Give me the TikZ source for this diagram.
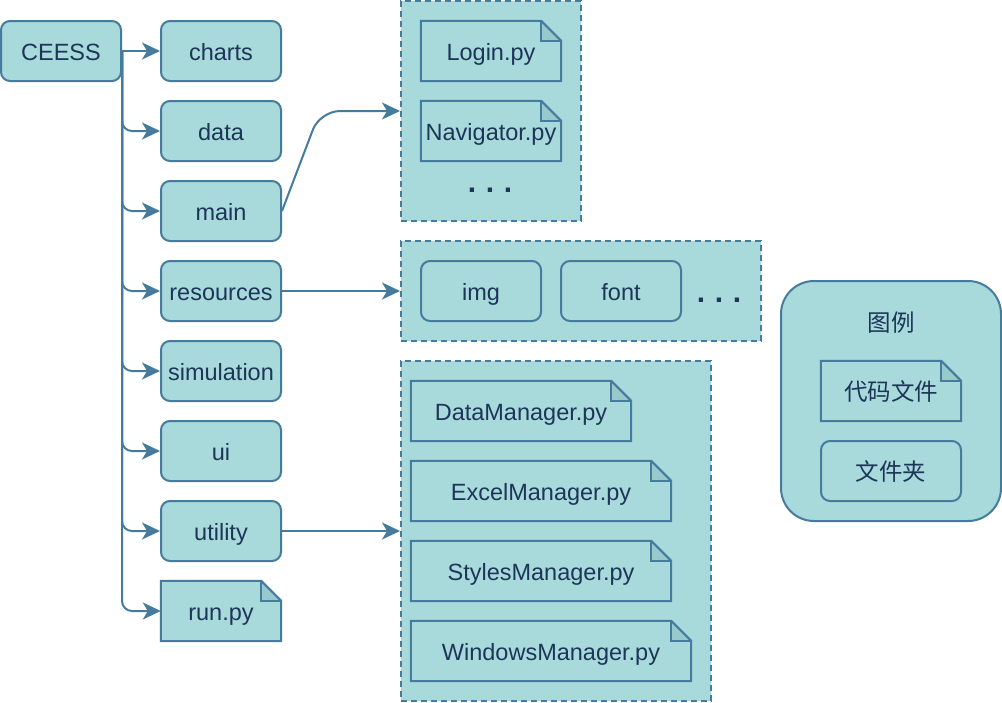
\documentclass[tikz,border=0pt]{standalone}
\usepackage{fontspec}
\setmainfont{Liberation Sans}
\newfontfamily\cjk{Noto Sans CJK SC}
\usetikzlibrary{arrows.meta}
\definecolor{boxfill}{HTML}{A8DADC}
\definecolor{boxline}{HTML}{457B9D}
\definecolor{boxtext}{HTML}{1D3557}
\definecolor{foldfill}{HTML}{98C9CC}
\newcommand\fileoutline[1]{%
  \fill[boxfill] (#1.north west) -- ([xshift=-20pt]#1.north east) -- ([yshift=-20pt]#1.north east) -- (#1.south east) -- (#1.south west) -- cycle;
  \draw[fileline, fill=foldfill] ([xshift=-20pt]#1.north east) -- ([xshift=-20pt,yshift=-20pt]#1.north east) -- ([yshift=-20pt]#1.north east);
  \draw[fileline] (#1.north west) -- ([xshift=-20pt]#1.north east) -- ([yshift=-20pt]#1.north east) -- (#1.south east) -- (#1.south west) -- cycle;
}
\begin{document}
\begin{tikzpicture}[x=1pt,y=-1pt,
  every node/.style={font=\fontsize{23.5}{28}\selectfont, text=boxtext, text height=20pt, text depth=2pt},
  folder/.style={draw=boxline, fill=boxfill, line width=2pt, rounded corners=9pt,
    minimum width=120pt, minimum height=60pt, inner sep=0pt},
  codefile/.style={inner sep=0pt, minimum height=60pt, minimum width=#1},
  codefile/.default=120pt,
  fileline/.style={draw=boxline, line width=2pt, line join=miter},
  container/.style={draw=boxline, fill=boxfill, line width=2pt, dash pattern=on 6pt off 4pt, inner sep=0pt},
  legendbox/.style={draw=boxline, fill=boxfill, line width=2pt, rounded corners=33pt, inner sep=0pt,
    minimum width=220pt, minimum height=240pt},
  dots/.style={font=\fontsize{30}{34}\selectfont\bfseries},
  conn/.style={draw=boxline, line width=2pt, -{Stealth[length=18pt,width=17pt,inset=5pt]}},
]
\useasboundingbox (0,0) rectangle (1002,702);

% containers
\node[container, minimum width=180pt, minimum height=220pt] (maincont) at (491,111) {};
\node[container, minimum width=360pt, minimum height=100pt] (rescont) at (581,291) {};
\node[container, minimum width=310pt, minimum height=340pt] (utilcont) at (556,531) {};
\node[legendbox] (legend) at (891,401) {};

% left column
\node[folder] (ceess) at (61,51) {CEESS};
\node[folder] (charts) at (221,51) {charts};
\node[folder] (data) at (221,131) {data};
\node[folder] (main) at (221,211) {main};
\node[folder] (resources) at (221,291) {resources};
\node[folder] (simulation) at (221,371) {simulation};
\node[folder] (ui) at (221,451) {ui};
\node[folder] (utility) at (221,531) {utility};
\node[codefile=120pt] (run) at (221,611) {};
\fileoutline{run}
\node at (run) {run.py};

% main container contents
\node[codefile=140pt] (login) at (491,51) {};
\fileoutline{login}
\node at (login) {Login.py};
\node[codefile=140pt] (navigator) at (491,131) {};
\fileoutline{navigator}
\node at (navigator) {Navigator.py};
\node[dots] (maindots) at (490,183) {.\hspace{9.7pt}.\hspace{9.7pt}.};

% resources container contents
\node[folder] (img) at (481,291) {img};
\node[folder] (font) at (621,291) {font};
\node[dots] (resdots) at (719,293) {.\hspace{9.7pt}.\hspace{9.7pt}.};

% utility container contents
\node[codefile=220pt] (datamgr) at (521,411) {};
\fileoutline{datamgr}
\node at (datamgr) {DataManager.py};
\node[codefile=260pt] (excelmgr) at (541,491) {};
\fileoutline{excelmgr}
\node at (excelmgr) {ExcelManager.py};
\node[codefile=260pt] (stylesmgr) at (541,571) {};
\fileoutline{stylesmgr}
\node at (stylesmgr) {StylesManager.py};
\node[codefile=280pt] (windowsmgr) at (551,651) {};
\fileoutline{windowsmgr}
\node at (windowsmgr) {WindowsManager.py};

% legend
\node (legendtitle) at (891,322) {\cjk 图例};
\node[codefile=140pt] (legfile) at (891,391) {};
\fileoutline{legfile}
\node at (legfile) {\cjk 代码文件};
\node[folder, minimum width=140pt] (legfolder) at (891,471) {\cjk 文件夹};

% connectors
\draw[conn] (ceess.east) -- (charts.west);
\foreach \t in {data,main,resources,simulation,ui,utility,run}
  \draw[conn, rounded corners=10pt] (ceess.east) |- (\t.west);
\draw[conn, rounded corners=20pt] (main.east) -- (320,111) -- (maincont.west);
\draw[conn] (resources.east) -- (rescont.west);
\draw[conn] (utility.east) -- (utility.east -| utilcont.west);
\end{tikzpicture}
\end{document}
